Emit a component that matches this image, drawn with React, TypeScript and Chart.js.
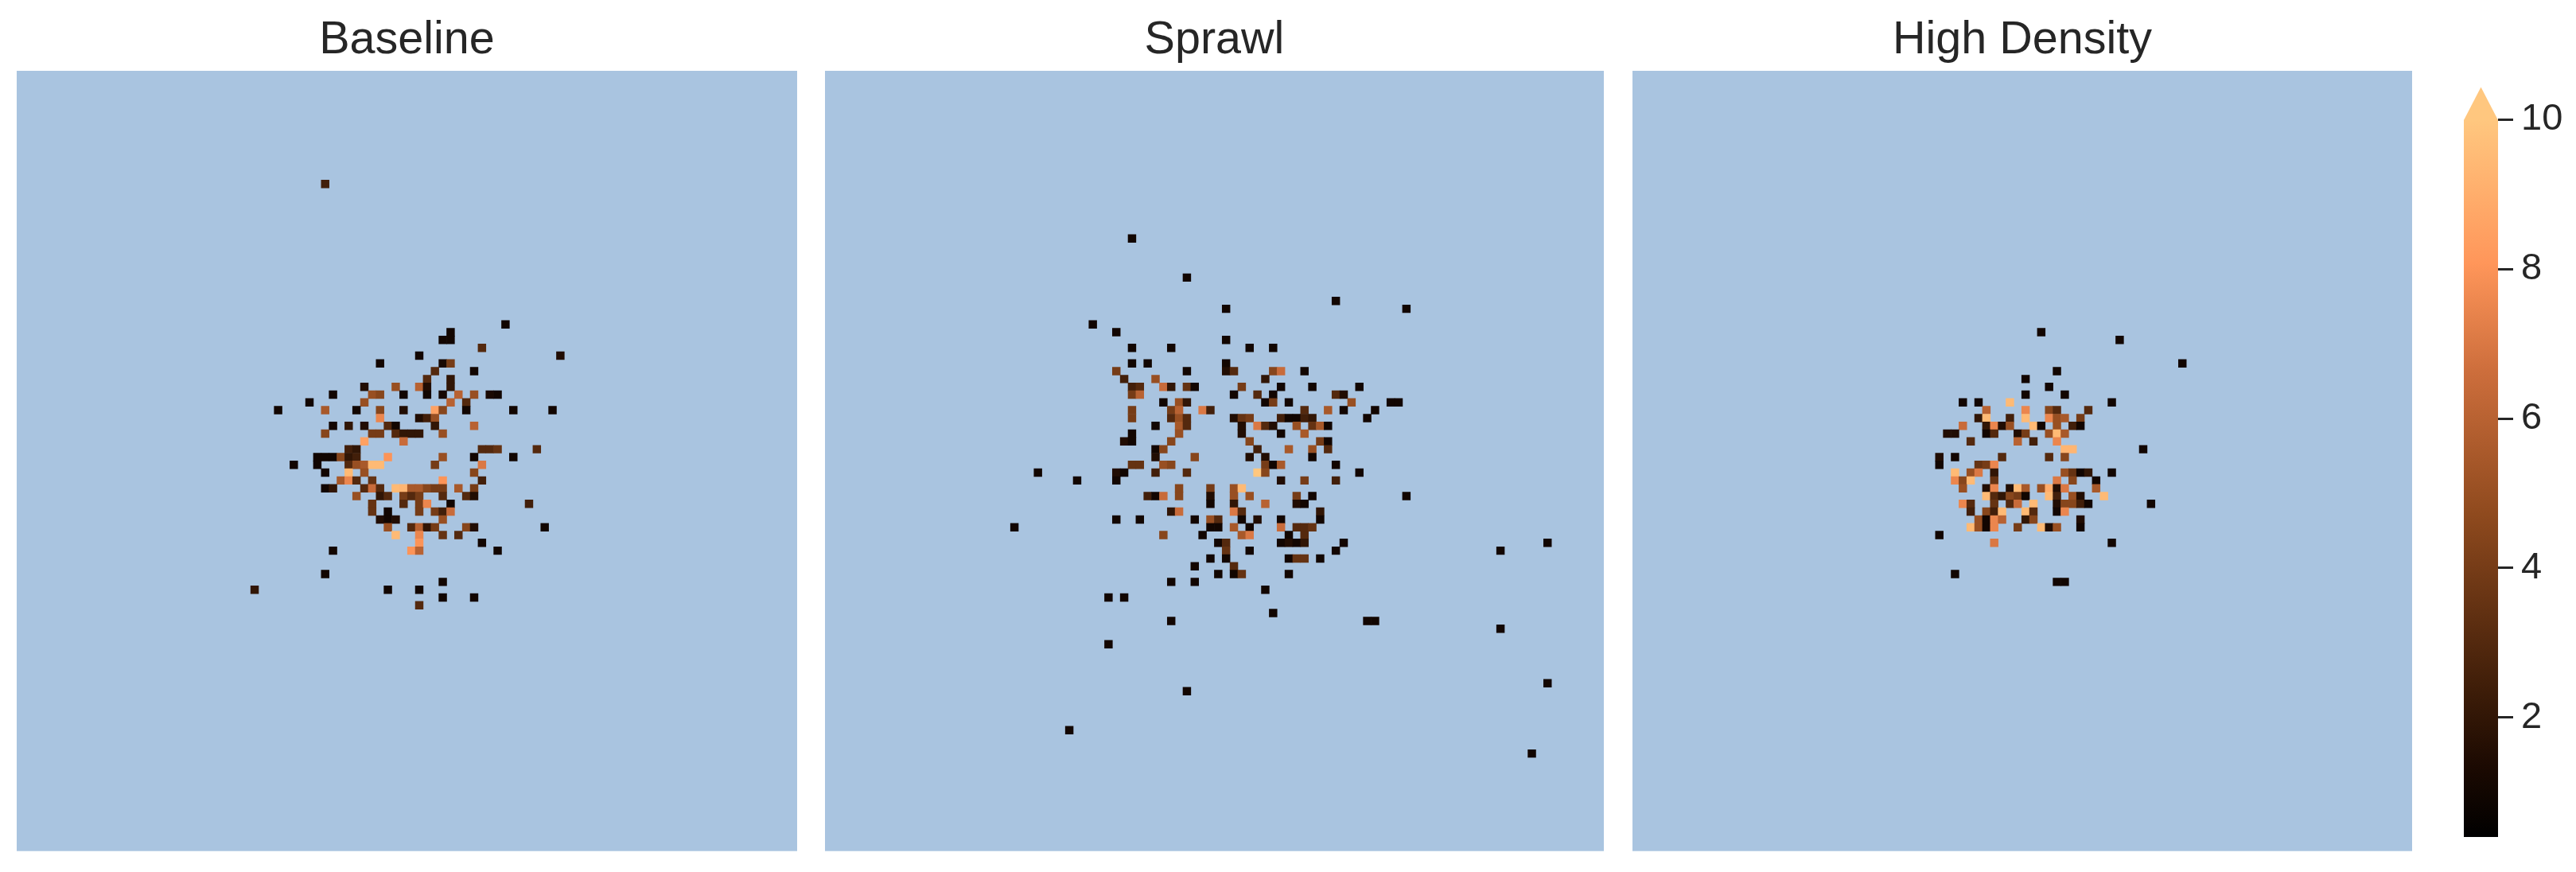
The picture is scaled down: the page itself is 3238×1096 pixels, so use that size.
import React, { useEffect, useRef } from "react";
import { Chart, registerables } from "chart.js";

Chart.register(...registerables);

type Cell = [number, number, number];

const titles = ["Baseline", "Sprawl", "High Density"];
const colorbarTicks = [2, 4, 6, 8, 10];
const vMin = 0.4;
const vMax = 10;

// [column, row, value]
const baselineCells: Cell[] = [
  [39,14,2.5],[62,32,1],[55,33,1],[54,34,1],[55,34,1],[59,35,3],[51,36,1],[69,36,1.5],[46,37,1],[54,37,1.2],[55,37,4],
  [53,38,3],[58,38,1],[52,39,3],[55,39,2],
  [44,40,1.5],[48,40,5],[51,40,6],[52,40,1.5],[55,40,2],
  [40,41,1],[45,41,5],[46,41,4.5],[49,41,1],[52,41,1],[54,41,1.2],[56,41,6],[58,41,5],[60,41,1.3],[61,41,1],
  [37,42,1],[44,42,5],[55,42,6],[57,42,3],
  [33,43,1],[39,43,5.5],[43,43,1],[46,43,4.5],[49,43,1.5],[53,43,8.5],[54,43,4.5],[57,43,1],[63,43,1],[68,43,1],
  [46,44,7.5],[51,44,1.5],[52,44,2.5],[53,44,5],
  [40,45,1],[42,45,2],[44,45,1.5],[47,45,3],[48,45,1],[53,45,2],[58,45,6],
  [39,46,4.5],[45,46,4],[46,46,4],[48,46,3],[49,46,2],[50,46,2],[51,46,2],[54,46,5],
  [44,47,8.5],[49,47,6.5],
  [42,48,2.5],[43,48,2],[59,48,3],[60,48,3],[61,48,3.5],[66,48,3],
  [38,49,1],[39,49,1],[40,49,1],[41,49,4.5],[42,49,2],[43,49,2.5],[47,49,8],[54,49,5],[58,49,1],[63,49,1],
  [35,50,1],[38,50,1],[42,50,3],[43,50,5],[44,50,5.5],[45,50,9.5],[46,50,9.5],[53,50,4],[59,50,7],
  [39,51,1],[42,51,9.5],[44,51,5],[58,51,4.5],
  [41,52,5.5],[42,52,7.5],[43,52,3],[45,52,3.5],[54,52,8],[59,52,2.5],
  [39,53,1],[40,53,2],[44,53,3],[45,53,6.5],[46,53,3],[48,53,9.5],[49,53,9.3],[50,53,5.5],[51,53,5.5],[52,53,4.5],[53,53,4],[54,53,4],[56,53,5.5],[58,53,4],
  [43,54,5],[46,54,2],[47,54,3],[49,54,4],[50,54,3],[51,54,4],[54,54,3],[57,54,3],[58,54,1.5],
  [45,55,3.5],[49,55,3],[51,55,4],[52,55,7.5],[55,55,1],[65,55,2.5],
  [45,56,3.5],[47,56,1],[51,56,4],[53,56,4],[54,56,2.5],[55,56,6.5],
  [46,57,1.5],[47,57,1],[48,57,1.5],[54,57,5],
  [47,58,5],[50,58,3],[51,58,6],[52,58,2],[53,58,4],[57,58,4.5],[58,58,1.5],[67,58,1],
  [48,59,9.5],[51,59,7.5],[54,59,3.5],[56,59,3],
  [51,60,8],[59,60,1],
  [40,61,1],[50,61,8],[51,61,6],[61,61,1],
  [39,64,1],[54,65,1],[30,66,2],[47,66,1],[51,66,1],[54,67,1],[58,67,1],[51,68,3],
];

const sprawlCells: Cell[] = [
  [39,21,1],[46,26,1],[65,29,1],[51,30,1],[74,30,1],[34,32,1],[37,33,1],[51,34,1],
  [39,35,1],[44,35,1],[54,35,1],[57,35,1],
  [39,37,1],[41,37,1],[51,37,1],
  [37,38,4],[46,38,1],[51,38,1.5],[52,38,3],[57,38,4.5],[58,38,6.5],[61,38,1],
  [38,39,2.5],[42,39,5],[56,39,2],
  [39,40,2.5],[40,40,3],[43,40,6.5],[44,40,2],[46,40,3.5],[47,40,1],[53,40,4],[58,40,1],[62,40,1],[68,40,1],
  [39,41,4],[40,41,6],[52,41,1],[55,41,3],[57,41,1],[65,41,3],[66,41,1.5],
  [43,42,1],[45,42,5],[46,42,2],[56,42,1],[57,42,4],[59,42,1],[67,42,5],[72,42,1],[73,42,1],
  [39,43,4],[44,43,4],[45,43,6],[48,43,7],[49,43,2.5],[61,43,3],[64,43,5.5],[66,43,1],[70,43,1],
  [39,44,4],[44,44,3],[45,44,5],[46,44,3],[52,44,1.5],[53,44,3.5],[54,44,4],[58,44,2.5],[59,44,1],[60,44,1],[61,44,2.5],[62,44,2],[69,44,1],
  [42,45,1],[45,45,5.5],[46,45,3],[53,45,1.5],[55,45,7],[56,45,3],[57,45,1.5],[60,45,5],[62,45,3.5],[63,45,5.5],[64,45,1],
  [39,46,1],[45,46,5],[53,46,1.5],[58,46,1],[61,46,5.5],
  [38,47,1.5],[39,47,1],[44,47,4.5],[54,47,4.5],[63,47,4],[64,47,1],
  [42,48,1],[43,48,4.5],[55,48,2.5],[59,48,5.5],[62,48,5],[64,48,3],
  [42,49,1.5],[47,49,4.5],[54,49,1.5],[56,49,1.5],[62,49,1],
  [39,50,3.5],[40,50,3.5],[43,50,5],[44,50,4.5],[56,50,4],[57,50,1],[58,50,5.5],[65,50,1],
  [27,51,1],[37,51,1.5],[38,51,1],[42,51,2.5],[46,51,3],[55,51,10],[56,51,4.5],[68,51,1],
  [32,52,1],[37,52,1],[58,52,1.5],[61,52,4],[65,52,2.5],
  [45,53,4.5],[49,53,4],[52,53,5],[53,53,9.5],
  [41,54,2.5],[42,54,1],[43,54,6.5],[45,54,4.5],[49,54,1.5],[52,54,5],[54,54,5],[60,54,4],[62,54,1],[74,54,1],
  [49,55,1],[52,55,2],[56,55,6],[60,55,1.5],[61,55,1],
  [44,56,2],[45,56,6.5],[52,56,7],[53,56,3],[63,56,2],
  [37,57,1],[40,57,1],[47,57,1],[49,57,5],[50,57,3],[53,57,1],[55,57,1.5],[58,57,1],[63,57,1],
  [24,58,1],[49,58,1],[50,58,1],[52,58,5.5],[54,58,1],[58,58,6.5],[60,58,3],[61,58,3],[62,58,3.5],
  [43,59,4.5],[48,59,1],[53,59,5.5],[54,59,7],[59,59,1],[61,59,3],
  [50,60,1],[51,60,3],[58,60,1],[59,60,1.5],[60,60,1],[61,60,2],[66,60,1],[92,60,1],
  [51,61,3.5],[54,61,1],[65,61,1],[86,61,1],
  [49,62,1],[51,62,1],[59,62,1],[60,62,3.5],[61,62,3.5],[63,62,1],
  [47,63,1],[52,63,3],
  [50,64,1],[52,64,1],[53,64,3.5],[59,64,1],
  [44,65,1],[47,65,1],[56,66,1],[36,67,1],[38,67,1],[57,69,1],
  [44,70,1],[69,70,1],[70,70,1],[86,71,1],[36,73,1],[92,78,1],[46,79,1],[31,84,1],[90,87,1],
];

const highDensityCells: Cell[] = [
  [52,33,1],[62,34,1],[70,37,1],[54,38,1],[50,39,1],[53,40,1],[50,41,1],[55,41,1],
  [42,42,1],[44,42,1],[48,42,9.5],[61,42,1],
  [45,43,6],[50,43,7.5],[53,43,4.5],[54,43,3],[58,43,3],
  [44,44,2],[45,44,9.5],[48,44,2.5],[50,44,9.5],[53,44,7.5],[54,44,5],[55,44,5.5],[57,44,4],
  [42,45,6.5],[45,45,2],[46,45,7.5],[47,45,1.5],[48,45,5],[51,45,9.5],[52,45,1],[54,45,5],[56,45,2.5],[57,45,1],
  [40,46,1.5],[41,46,1.5],[45,46,1],[46,46,3],[49,46,1.5],[50,46,4],[53,46,5],[54,46,9.5],[55,46,5.5],
  [43,47,3],[49,47,6],[51,47,2.5],[54,47,7.5],
  [55,48,9.3],[56,48,9.3],[65,48,1],
  [39,49,1.5],[41,49,1],[47,49,3],[53,49,3],[55,49,4.5],
  [39,50,1],[44,50,3.5],[45,50,4],[46,50,7.5],
  [41,51,9.5],[43,51,5],[44,51,7],[46,51,2],[55,51,5],[56,51,3.5],[57,51,1],[58,51,2],[61,51,1],
  [41,52,7.5],[42,52,4.5],[43,52,9.5],[46,52,3.5],[54,52,7],[56,52,4.5],[59,52,1],
  [42,53,5],[45,53,1.5],[46,53,7.5],[48,53,1.5],[49,53,9.5],[50,53,5.5],[52,53,5],[53,53,9],[54,53,1.5],[55,53,7],[59,53,5.5],
  [45,54,9.5],[46,54,3],[47,54,2],[48,54,4.5],[49,54,4],[50,54,1],[53,54,9.5],[54,54,2.5],[56,54,5],[57,54,1.5],[60,54,9.5],
  [42,55,7.5],[43,55,3],[46,55,3.5],[48,55,3],[49,55,6.5],[51,55,9.5],[54,55,1.5],[55,55,4.5],[56,55,4.5],[57,55,2.5],[58,55,1],[66,55,1],
  [43,56,2.5],[45,56,4.5],[46,56,2.5],[47,56,9.5],[50,56,9.5],[51,56,3],[54,56,1],[55,56,7.5],
  [44,57,5],[45,57,1],[46,57,7.5],[47,57,6],[50,57,2],[51,57,4.5],[57,57,1.5],
  [43,58,9.5],[44,58,5],[45,58,1],[46,58,7.5],[49,58,4],[52,58,9.5],[53,58,1.5],[54,58,5],[57,58,1],
  [39,59,1],[46,60,7],[61,60,1],[41,64,1],[54,65,1],[55,65,1],
];

const allCells = [baselineCells, sprawlCells, highDensityCells];

// colour ramp: [fraction, r, g, b]
const rampStops = [
  [0, 0, 0, 0],
  [0.1, 28, 10, 2],
  [0.2, 60, 28, 8],
  [0.45, 143, 74, 30],
  [0.65, 205, 110, 60],
  [0.8, 255, 150, 90],
  [1, 255, 199, 127],
];

const PANEL_COLOR = "#a9c4e0";
const TEXT_COLOR = "#262626";
const FONT = "'Liberation Sans', Arial, sans-serif";
const panelBoxes = [
  { left: 21, width: 981, xMin: -0.345, xMax: 99.2 },
  { left: 1037, width: 979, xMin: -0.162, xMax: 99.18 },
  { left: 2052, width: 980, xMin: -0.14, xMax: 99.3 },
];

function rampColor(t: number): string {
  const f = Math.max(0, Math.min(1, t));
  for (let i = 1; i < rampStops.length; i++) {
    const a = rampStops[i - 1];
    const b = rampStops[i];
    if (f <= b[0]) {
      const k = (f - a[0]) / (b[0] - a[0]);
      return `rgb(${[1, 2, 3].map((j) => Math.round(a[j] + (b[j] - a[j]) * k)).join(",")})`;
    }
  }
  return "rgb(255,199,127)";
}

const valueColor = (v: number) => rampColor((v - vMin) / (vMax - vMin));

const panelBackground = {
  id: "panelBackground",
  beforeDatasetsDraw(chart: any) {
    const { ctx, chartArea: a } = chart;
    ctx.save();
    ctx.fillStyle = PANEL_COLOR;
    ctx.fillRect(a.left, a.top, a.right - a.left, a.bottom - a.top);
    ctx.restore();
  },
};

const colorbarArrow = {
  id: "colorbarArrow",
  afterDatasetsDraw(chart: any) {
    const { ctx, chartArea: a } = chart;
    ctx.save();
    ctx.fillStyle = valueColor(vMax);
    ctx.beginPath();
    ctx.moveTo(a.left, a.top + 0.5);
    ctx.lineTo(a.right, a.top + 0.5);
    ctx.lineTo((a.left + a.right) / 2, a.top - 41);
    ctx.closePath();
    ctx.fill();
    ctx.restore();
  },
};

function Panel({ index }: { index: number }) {
  const ref = useRef<HTMLCanvasElement>(null);
  const box = panelBoxes[index];
  useEffect(() => {
    const cells = allCells[index];
    const chart = new Chart(ref.current!, {
      type: "scatter",
      data: {
        datasets: [
          {
            data: cells.map(([x, y]) => ({ x, y })),
            pointStyle: "rect",
            pointRadius: 7.4,
            pointBorderWidth: 0,
            pointBackgroundColor: cells.map((c) => valueColor(c[2])),
          },
        ],
      },
      options: {
        responsive: false,
        animation: false,
        layout: { autoPadding: false, padding: { top: 0, bottom: 26.3, left: 0, right: 0 } },
        plugins: {
          legend: { display: false },
          tooltip: { enabled: false },
          title: {
            display: true,
            text: titles[index],
            color: TEXT_COLOR,
            font: { family: FONT, size: 57.5, weight: "normal", lineHeight: 1.2 },
            padding: { top: 17, bottom: 3 },
          },
        },
        scales: {
          x: { type: "linear", display: false, min: box.xMin, max: box.xMax },
          y: { type: "linear", display: false, min: -0.5, max: 99.5, reverse: true },
        },
      },
      plugins: [panelBackground],
    } as any);
    return () => chart.destroy();
  }, [index]);
  return (
    <canvas
      ref={ref}
      width={box.width}
      height={1096}
      style={{ position: "absolute", left: box.left, top: 0, width: box.width, height: 1096 }}
    />
  );
}

function Colorbar() {
  const ref = useRef<HTMLCanvasElement>(null);
  useEffect(() => {
    const chart = new Chart(ref.current!, {
      type: "bar",
      data: {
        labels: ["scale"],
        datasets: [
          {
            data: [[vMin, vMax]],
            barPercentage: 1,
            categoryPercentage: 1,
            borderWidth: 0,
            backgroundColor: (c: any) => {
              const a = c.chart.chartArea;
              if (!a) return valueColor(vMax);
              const g = c.chart.ctx.createLinearGradient(0, a.bottom, 0, a.top);
              rampStops.forEach((s) => g.addColorStop(s[0], `rgb(${s[1]},${s[2]},${s[3]})`));
              return g;
            },
          },
        ],
      },
      options: {
        responsive: false,
        animation: false,
        layout: { padding: { top: 150.5, bottom: 44, left: 47, right: 0 } },
        plugins: { legend: { display: false }, tooltip: { enabled: false }, title: { display: false } },
        scales: {
          x: { display: false },
          y: {
            position: "right",
            min: vMin,
            max: vMax,
            afterBuildTicks: (axis: any) => {
              axis.ticks = colorbarTicks.map((value) => ({ value }));
            },
            afterFit: (axis: any) => {
              axis.width = 98;
            },
            border: { display: false },
            grid: { drawOnChartArea: false, tickLength: 19, tickColor: TEXT_COLOR, tickWidth: 3 },
            ticks: {
              color: TEXT_COLOR,
              padding: 10,
              font: { family: FONT, size: 47 },
              callback: (v: any) => String(v),
            },
          },
        },
      },
      plugins: [colorbarArrow],
    } as any);
    return () => chart.destroy();
  }, []);
  return (
    <canvas
      ref={ref}
      width={188}
      height={1096}
      style={{ position: "absolute", left: 3050, top: 0, width: 188, height: 1096 }}
    />
  );
}

export default function App() {
  return (
    <div style={{ position: "absolute", left: 0, top: 0, width: 3238, height: 1096, background: "#fff", overflow: "hidden" }}>
      {titles.map((_, i) => (
        <Panel key={i} index={i} />
      ))}
      <Colorbar />
    </div>
  );
}
